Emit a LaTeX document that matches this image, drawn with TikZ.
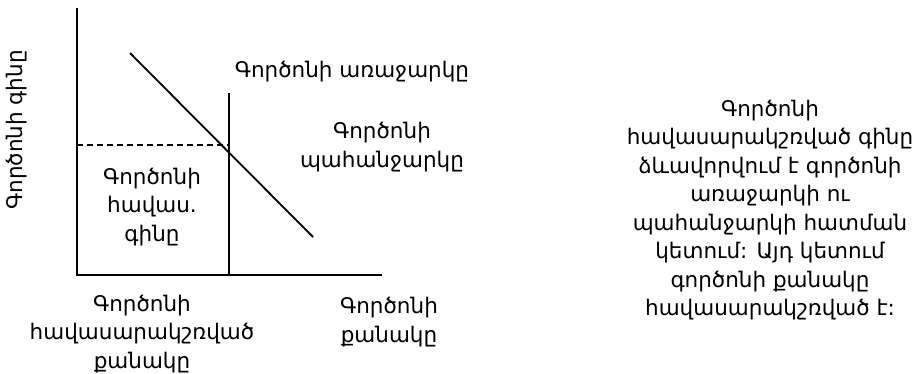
\documentclass[tikz,border=0pt]{standalone}
\usepackage{fontspec}
\setmainfont{DejaVu Sans}
\begin{document}
\begin{tikzpicture}[x=1pt,y=-1pt,line width=1.8pt,
  txt/.style={font=\fontsize{21.5}{28.5}\selectfont, align=center, inner sep=0pt}]
\useasboundingbox (0,0) rectangle (924,373);
% axes
\coordinate (ytop) at (77,8);
\coordinate (orig) at (77,275);
\coordinate (xend) at (382,275);
\draw (ytop) -- (orig) -- (xend);
% supply
\coordinate (stop) at (229,93);
\coordinate (sbot) at (229,275);
\draw (stop) -- (sbot);
% demand
\coordinate (dtop) at (130,53);
\coordinate (dbot) at (313,237);
\draw (dtop) -- (dbot);
% equilibrium price dashed
\coordinate (pl) at (77,145);
\coordinate (pr) at (229,145);
\draw[dash pattern=on 6pt off 4pt, line width=1.4pt] (pl) -- (pr);
% labels
\node[txt, rotate=90] (ylab) at (17,130) {Գործոնի գինը};
\node[txt] (supply) at (352,72) {Գործոնի առաջարկը};
\node[txt] (demand) at (382,147) {Գործոնի\\պահանջարկը};
\node[txt] (eqp) at (152,207) {Գործոնի\\հավաս.\\գինը};
\node[txt] (eqq) at (142,334) {Գործոնի\\հավասարակշռված\\քանակը};
\node[txt] (qty) at (389,322) {Գործոնի\\քանակը};
\node[txt] (para) at (770,210) {Գործոնի\\հավասարակշռված գինը\\ձևավորվում է գործոնի\\առաջարկի ու\\պահանջարկի հատման\\կետում: Այդ կետում\\գործոնի քանակը\\հավասարակշռված է:};
\end{tikzpicture}
\end{document}
